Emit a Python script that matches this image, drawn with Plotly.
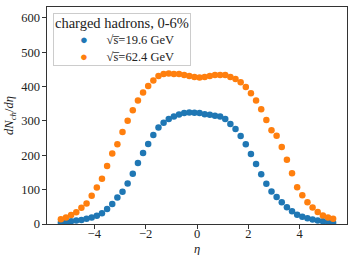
import numpy as np
import plotly.graph_objects as go

eta = [round(-5.3 + 0.2 * i, 1) for i in range(54)]

dn_19 = [4, 5, 8, 10, 12, 15, 19, 24, 31, 44, 58, 77, 94, 118, 146, 178, 207, 233, 259, 281,
         295, 306, 313, 319, 323, 325, 324,
         323, 320, 318, 315, 313, 306, 291, 277, 256, 232, 204, 175, 145, 117, 95, 79, 63,
         49, 37, 27, 21, 17, 13, 10, 8, 6, 4]

dn_62 = [14, 19, 26, 34, 47, 60, 82, 106, 132, 169, 205, 232, 268, 301, 331, 360, 383, 402,
         418, 431, 437, 438, 437, 437, 434, 431, 428,
         427, 428, 431, 434, 434, 434, 428, 422, 413, 399, 381, 360, 334, 303, 273, 257, 224,
         187, 148, 107, 84, 63, 48, 35, 25, 19, 15]

series_names = ["√s\u0305=19.6 GeV", "√s\u0305=62.4 GeV"]
series_colors = ["#1f77b4", "#ff7f0e"]
legend_title = "charged hadrons, 0-6%"
x_ticks = [-4, -2, 0, 2, 4]
y_ticks = [0, 100, 200, 300, 400, 500, 600]

font_family = "Liberation Serif, DejaVu Serif, serif"

fig = go.Figure()
for yv, nm, col in zip([dn_19, dn_62], series_names, series_colors):
    fig.add_trace(go.Scatter(x=eta, y=yv, mode="markers", name=nm, showlegend=False,
                             marker=dict(color=col, size=6.5, line=dict(width=0))))

axis_common = dict(showline=True, linecolor="#333333", linewidth=1.2, mirror=True,
                   ticks="outside", ticklen=3.5, tickwidth=1, tickcolor="#333333",
                   showgrid=False, zeroline=False,
                   tickfont=dict(family=font_family, size=12.5, color="#222222"))

nb = "\u00a0"
legend_lines = [f"<span style='font-size:14.5px'>{legend_title}</span>"]
for nm, col in zip(series_names, series_colors):
    legend_lines.append(nb * 8 + f"<span style='color:{col};font-size:13px'>●</span>" + nb * 6 + nm)
legend_text = "<br>".join(legend_lines)

fig.update_layout(
    width=349, height=255,
    margin=dict(l=47, r=2, t=7, b=31),
    paper_bgcolor="white", plot_bgcolor="white",
    font=dict(family=font_family, size=12, color="#222222"),
    xaxis=dict(range=[-5.84, 5.84], tickvals=x_ticks, ticklabelstandoff=-6, **axis_common),
    yaxis=dict(range=[0, 632], tickvals=y_ticks,
               title=dict(text="<i>dN</i><sub><i>ch</i></sub>/<i>dη</i>", standoff=4,
                          font=dict(size=12.5)), **axis_common),
    showlegend=False,
    annotations=[
        dict(text="<i>η</i>", xref="paper", yref="paper", x=0.5, y=-0.113,
             xanchor="center", yanchor="middle", showarrow=False, font=dict(size=12.5)),
        dict(text=legend_text, xref="paper", yref="paper", x=0.02, y=0.972,
             xanchor="left", yanchor="top", align="left", showarrow=False,
             font=dict(size=12.5, color="#222222"), bgcolor="rgba(255,255,255,0.8)",
             bordercolor="#cccccc", borderwidth=1, borderpad=1),
    ],
)

fig.write_html("out.html", config={"displayModeBar": False},
               post_script="document.body.style.margin='0px';document.body.style.overflow='hidden';")
